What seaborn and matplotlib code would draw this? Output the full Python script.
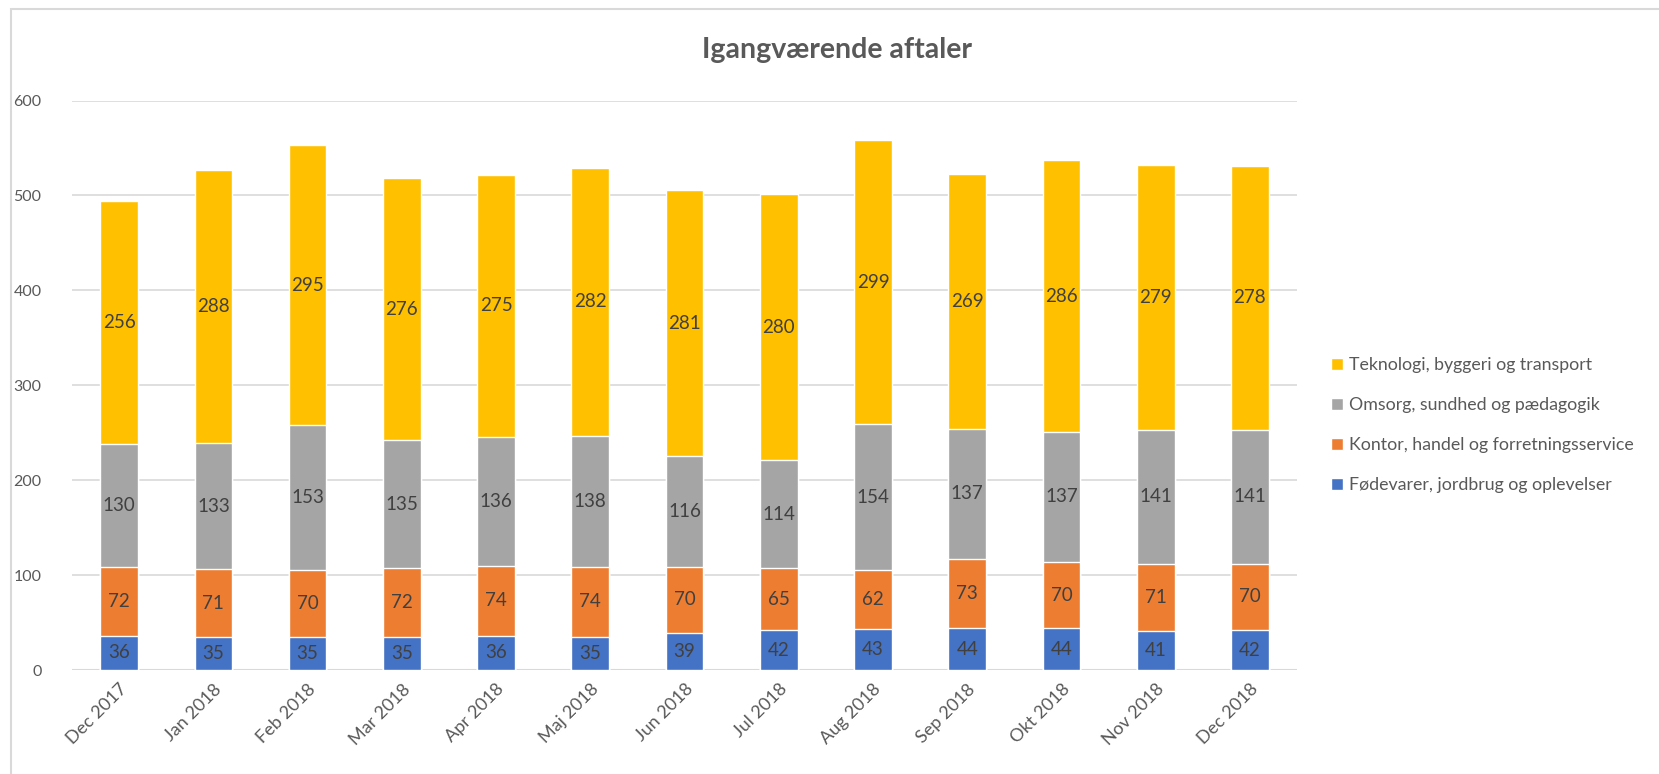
import numpy as np
import pandas as pd
import seaborn as sns
import matplotlib.pyplot as plt
from matplotlib.patches import Rectangle

# data
months = ["Dec 2017", "Jan 2018", "Feb 2018", "Mar 2018", "Apr 2018", "Maj 2018",
          "Jun 2018", "Jul 2018", "Aug 2018", "Sep 2018", "Okt 2018", "Nov 2018", "Dec 2018"]
series_names = ["Fødevarer, jordbrug og oplevelser",
                "Kontor, handel og forretningsservice",
                "Omsorg, sundhed og pædagogik",
                "Teknologi, byggeri og transport"]
foedevarer = [36, 35, 35, 35, 36, 35, 39, 42, 43, 44, 44, 41, 42]
kontor = [72, 71, 70, 72, 74, 74, 70, 65, 62, 73, 70, 71, 70]
omsorg = [130, 133, 153, 135, 136, 138, 116, 114, 154, 137, 137, 141, 141]
teknologi = [256, 288, 295, 276, 275, 282, 281, 280, 299, 269, 286, 279, 278]
colors = ["#4472C4", "#ED7D31", "#A5A5A5", "#FFC000"]

values = np.array([foedevarer, kontor, omsorg, teknologi])
tops = values.cumsum(axis=0)

sns.set_theme(style="white")
plt.rcParams["font.family"] = ["Lato", "DejaVu Sans"]

fig = plt.figure(figsize=(16.59, 7.74), dpi=100)
ax = fig.add_axes([72 / 1659, 1 - 670 / 774, (1297 - 72) / 1659, (670 - 100.5) / 774])

# stacked bars: draw cumulative totals from the top segment down
for i in reversed(range(len(series_names))):
    df = pd.DataFrame({"month": months, "value": tops[i]})
    sns.barplot(data=df, x="month", y="value", color=colors[i], width=0.40,
                saturation=1, ax=ax, label=series_names[i], zorder=3)

# data labels in the middle of each segment
for i in range(len(series_names)):
    for j in range(len(months)):
        ax.text(j, tops[i][j] - values[i][j] / 2, str(values[i][j]),
                ha="center", va="center", fontsize=13.5, color="#404040", zorder=4)

ax.set_ylim(0, 600)
ax.set_xlim(-0.5, len(months) - 0.5)
ax.set_yticks(range(0, 601, 100))
ax.yaxis.grid(True, color="#D9D9D9", linewidth=1.2, zorder=0)
ax.set_axisbelow(True)
for s in ax.spines.values():
    s.set_visible(False)
ax.axhline(0, color="#D9D9D9", linewidth=1.5, zorder=2)
ax.set_xlabel("")
ax.set_ylabel("")
ax.tick_params(axis="y", labelsize=11.5, colors="#595959", length=0, pad=22)
ax.tick_params(axis="x", labelsize=13, colors="#595959", length=0, pad=8)
plt.setp(ax.get_xticklabels(), rotation=45, ha="right", rotation_mode="anchor")

handles, labels = ax.get_legend_handles_labels()
ax.legend(handles, labels, loc="center left", bbox_to_anchor=(1.015, 0.43),
          frameon=False, fontsize=12.8, labelcolor="#595959", handlelength=0.65,
          handleheight=0.65, handletextpad=0.35, labelspacing=1.35)

fig.text(837 / 1659, 1 - 50 / 774, "Igangværende aftaler", ha="center", va="center",
         fontsize=20.5, fontweight="bold", color="#595959")

# light frame around the chart area
fig.patches.append(Rectangle((11 / 1659, -0.01), 1.0, 1 - 9 / 774 + 0.01,
                             transform=fig.transFigure, fill=False,
                             edgecolor="#D9D9D9", linewidth=1.5))

fig.savefig("out.png", dpi=100)
